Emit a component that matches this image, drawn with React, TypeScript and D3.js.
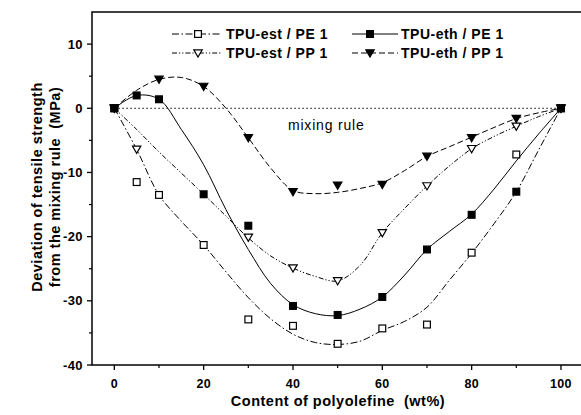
import React from 'react';
import * as d3 from 'd3';

// Measured data points
const xsAll = [0, 5, 10, 20, 30, 40, 50, 60, 70, 80, 90, 100];
const estPEVals = [0, -11.5, -13.5, -21.3, -32.9, -33.9, -36.7, -34.3, -33.7, -22.5, -7.2, 0];
const ethPEVals = [0, 2.0, 1.4, -13.4, -18.3, -30.8, -32.2, -29.4, -22.0, -16.6, -13.0, 0];
const estPPX = [0, 5, 30, 40, 50, 60, 70, 80, 90, 100];
const estPPVals = [0, -6.4, -20.1, -24.9, -26.9, -19.4, -12.1, -6.3, -2.8, 0];
const ethPPX = [0, 10, 20, 30, 40, 50, 60, 70, 80, 90, 100];
const ethPPVals = [0, 4.5, 3.4, -4.6, -13.0, -12.0, -11.9, -7.5, -4.6, -1.6, 0];

// Fitted curves at x = 0,5,...,100
const fitX = [0, 5, 10, 15, 20, 25, 30, 35, 40, 45, 50, 55, 60, 65, 70, 75, 80, 85, 90, 95, 100];
const estPEFit = [0, -6.4, -13.5, -17.6, -21.3, -25.5, -29.5, -32.8, -35.2, -36.5, -36.8, -36.3, -34.6, -33.2, -31.0, -26.8, -22.6, -18.0, -13.0, -6.5, 0];
const ethPEFit = [0, 2.0, 1.4, -3.3, -8.8, -15.8, -22.0, -27.3, -30.6, -32.0, -32.3, -31.3, -29.4, -26.0, -22.0, -19.2, -16.5, -12.6, -8.2, -4.0, 0];
const estPPFit = [0, -3.3, -6.8, -10.1, -13.4, -16.8, -20.2, -23.0, -24.9, -26.2, -26.9, -24.5, -19.4, -15.6, -12.1, -9.0, -6.3, -4.4, -2.8, -1.3, 0];
const ethPPFit = [0, 2.8, 4.5, 4.8, 3.4, 0.0, -4.6, -9.3, -12.8, -13.3, -13.1, -12.5, -11.6, -9.7, -7.5, -6.0, -4.5, -3.0, -1.6, -0.7, 0];

const xTicks = [0, 20, 40, 60, 80, 100];
const xMinor = [10, 30, 50, 70, 90];
const yTicks = [-40, -30, -20, -10, 0, 10];
const yMinor = [-35, -25, -15, -5, 5];

const seriesNames = ['TPU-est / PE 1', 'TPU-eth / PE 1', 'TPU-est / PP 1', 'TPU-eth / PP 1'];

const W = 581, H = 415;
const left = 92, right = 583.3, top = 12, bottom = 365;
const FONT = '"Liberation Sans", Arial, sans-serif';

const x = d3.scaleLinear().domain([-5, 105]).range([left, right]);
const y = d3.scaleLinear().domain([-40, 15]).range([bottom, top]);

type Marker = 'sqOpen' | 'sqFill' | 'triOpen' | 'triFill';

function MarkerShape({ kind, cx, cy }: { kind: Marker; cx: number; cy: number }) {
  const s = 3.4;
  if (kind === 'sqOpen' || kind === 'sqFill') {
    return (
      <rect x={cx - s} y={cy - s} width={2 * s} height={2 * s}
        fill={kind === 'sqFill' ? '#000' : '#fff'} stroke="#000" strokeWidth={1.2} />
    );
  }
  const t = 4.2;
  const p = `M${cx - t},${cy - 3.2}L${cx + t},${cy - 3.2}L${cx},${cy + 4}Z`;
  return <path d={p} fill={kind === 'triFill' ? '#000' : '#fff'} stroke="#000" strokeWidth={1.2} strokeLinejoin="miter" />;
}

const line = d3.line<[number, number]>()
  .x(d => x(d[0]))
  .y(d => y(d[1]))
  .curve(d3.curveCatmullRom.alpha(0.5));

const series = [
  { name: seriesNames[0], px: xsAll, py: estPEVals, fit: estPEFit, marker: 'sqOpen' as Marker, dash: '7 2.5 1.5 2.5' },
  { name: seriesNames[1], px: xsAll, py: ethPEVals, fit: ethPEFit, marker: 'sqFill' as Marker, dash: '' },
  { name: seriesNames[2], px: estPPX, py: estPPVals, fit: estPPFit, marker: 'triOpen' as Marker, dash: '5 2 1.2 2 1.2 2' },
  { name: seriesNames[3], px: ethPPX, py: ethPPVals, fit: ethPPFit, marker: 'triFill' as Marker, dash: '6 3' },
];

export default function App() {
  const legendPos = [
    { lx0: 172, lx1: 222, mx: 198, tx: 226, ty: 34 },
    { lx0: 352, lx1: 398, mx: 370, tx: 401, ty: 34 },
    { lx0: 172, lx1: 222, mx: 198, tx: 226, ty: 53 },
    { lx0: 352, lx1: 398, mx: 370, tx: 401, ty: 53 },
  ];
  return (
    <svg width={W} height={H} style={{ position: 'absolute', left: 0, top: 0, background: '#fff' }}
      fontFamily={FONT}>
      <rect x={0} y={0} width={W} height={H} fill="#fff" />
      {/* mixing rule line */}
      <line x1={x(0)} x2={x(100)} y1={y(0)} y2={y(0)} stroke="#000" strokeWidth={1} strokeDasharray="1.5 2.5" />
      <text x={288} y={130} fontSize={14} letterSpacing={0.8} fill="#000">mixing rule</text>

      {/* fitted curves */}
      {series.map((s, i) => (
        <path key={'c' + i}
          d={line(fitX.map((xv, j) => [xv, s.fit[j]] as [number, number])) || ''}
          fill="none" stroke="#000" strokeWidth={1} strokeDasharray={s.dash || undefined} />
      ))}

      {/* markers */}
      {series.map((s, i) => (
        <g key={'m' + i}>
          {s.px.map((xv, j) => (
            <MarkerShape key={j} kind={s.marker} cx={x(xv)} cy={y(s.py[j])} />
          ))}
        </g>
      ))}

      {/* frame */}
      <rect x={left} y={top} width={right - left} height={bottom - top} fill="none" stroke="#000" strokeWidth={1.5} />

      {/* x ticks */}
      {xTicks.map(t => (
        <g key={'xt' + t}>
          <line x1={x(t)} x2={x(t)} y1={bottom} y2={bottom + 5} stroke="#000" strokeWidth={1.3} />
          <text x={x(t)} y={388} fontSize={12.5} letterSpacing={0.3} fontWeight="bold" textAnchor="middle">{t}</text>
        </g>
      ))}
      {xMinor.map(t => (
        <line key={'xm' + t} x1={x(t)} x2={x(t)} y1={bottom} y2={bottom + 3} stroke="#000" strokeWidth={1.2} />
      ))}
      {/* y ticks */}
      {yTicks.map(t => (
        <g key={'yt' + t}>
          <line x1={left - 5} x2={left} y1={y(t)} y2={y(t)} stroke="#000" strokeWidth={1.3} />
          <text x={83} y={y(t) + 4.5} fontSize={13} letterSpacing={0.4} fontWeight="bold" textAnchor="end">{t}</text>
        </g>
      ))}
      {yMinor.map(t => (
        <line key={'ym' + t} x1={left - 3} x2={left} y1={y(t)} y2={y(t)} stroke="#000" strokeWidth={1.2} />
      ))}

      {/* axis titles */}
      <text x={338} y={406} fontSize={14.5} letterSpacing={0.5} fontWeight="bold" textAnchor="middle" style={{ whiteSpace: 'pre' }}>
        {'Content of polyolefine  (wt%)'}
      </text>
      <g transform="translate(42,187) rotate(-90)">
        <text x={0} y={0} fontSize={14.5} letterSpacing={0.5} fontWeight="bold" textAnchor="middle">Deviation of tensile strength</text>
        <text x={0} y={18} fontSize={14.5} letterSpacing={0.5} fontWeight="bold" textAnchor="middle" style={{ whiteSpace: 'pre' }}>
          {'from the mixing rule  (MPa)'}
        </text>
      </g>

      {/* legend */}
      {series.map((s, i) => {
        const p = legendPos[i];
        return (
          <g key={'l' + i}>
            <line x1={p.lx0} x2={p.lx1} y1={p.ty} y2={p.ty} stroke="#000" strokeWidth={1}
              strokeDasharray={s.dash || undefined} />
            <MarkerShape kind={s.marker} cx={p.mx} cy={p.ty} />
            <text x={p.tx} y={p.ty + 5} fontSize={14} letterSpacing={0.5} fontWeight="bold">{s.name}</text>
          </g>
        );
      })}
    </svg>
  );
}
